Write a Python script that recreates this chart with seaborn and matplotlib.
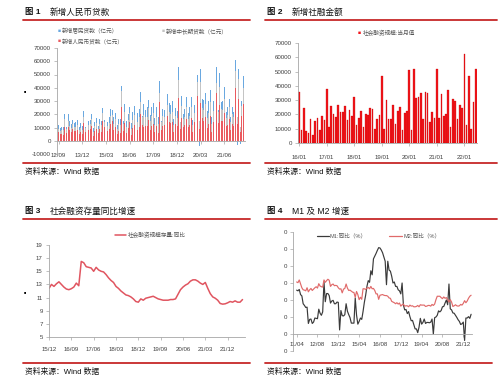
import numpy as np
import pandas as pd
import matplotlib
matplotlib.use('Agg')
import matplotlib.pyplot as plt
from matplotlib.lines import Line2D
import seaborn as sns

# ---------------- data ----------------
# Chart 1: monthly 2012/09 - 2022/06 (亿元)
loan_rmb = [6232, 5053, 5229, 4543,
            10721, 6200, 10625, 7929, 6674, 8605, 6999, 7139, 7870, 5061, 6246, 4825,
            13200, 6445, 10500, 7747, 8708, 10800, 3852, 7025, 8572, 5483, 8527, 6973,
            14700, 10200, 11800, 7079, 9008, 12800, 14800, 8096, 10500, 5136, 7089, 5978,
            25100, 7266, 13700, 5556, 9855, 13800, 4636, 9487, 12200, 6513, 7946, 10400,
            20300, 11700, 10200, 11000, 11100, 15400, 8255, 10900, 12700, 6632, 11200, 5844,
            29000, 8393, 11200, 11800, 11500, 18400, 14500, 13100, 13800, 6970, 12500, 10800,
            32300, 8858, 16900, 10200, 11800, 16600, 10600, 12100, 16900, 6613, 13900, 11400,
            33400, 9057, 28500, 17000, 14800, 18100, 9927, 12800, 19000, 6898, 14300, 12600,
            35800, 13600, 27300, 14700, 15000, 21200, 10800, 12200, 16600, 8262, 12700, 11300,
            39800, 12300, 31300, 6454, 18900, 28100]
loan_mid = [3000, 2500, 2800, 3500,
            5800, 3000, 4500, 3500, 3000, 3800, 3500, 3600, 4000, 2800, 3700, 3500,
            5000, 3500, 5200, 4000, 4200, 5400, 3000, 3800, 4600, 3200, 4300, 4800,
            6000, 4000, 5600, 3800, 4500, 5800, 4500, 4800, 5600, 3900, 5200, 5800,
            12600, 5000, 8000, 4800, 5500, 7000, 4200, 5800, 7000, 4500, 6200, 7500,
            9000, 6000, 9500, 7000, 7200, 9000, 6500, 7500, 8500, 5600, 7000, 6500,
            7000, 5500, 7600, 6500, 6800, 8500, 7400, 7000, 8000, 5200, 6500, 6000,
            13600, 5000, 9000, 6000, 6500, 9000, 5500, 6500, 8500, 5000, 7000, 7000,
            10700, 6000, 15600, 8000, 8500, 9500, 7000, 8500, 10000, 6000, 8500, 8000,
            7500, 8000, 13000, 9000, 8500, 10500, 6500, 7500, 8500, 6000, 7500, 7000,
            12800, 6000, 15000, 4000, 7500, 12000]
loan_house = [2800, 1800, 2700, 2600,
              3500, 1000, 5000, 3100, 2900, 3200, 3000, 3500, 4000, 2500, 3200, 2500,
              4500, 600, 4500, 3000, 3000, 4300, 2500, 3100, 4100, 2800, 3700, 3100,
              4300, 1600, 4300, 3600, 4200, 5300, 3800, 5200, 5000, 3000, 4400, 4500,
              3300, 3000, 6100, 4300, 4700, 4700, 4600, 6700, 6800, 4300, 6900, 6300,
              7200, 1000, 7800, 5500, 7100, 6500, 5000, 7400, 7400, 4700, 7100, 5300,
              9000, 1000, 5000, 5200, 6300, 8300, 6300, 7100, 7900, 4500, 6000, 5700,
              10100, -1000, 7700, 4300, 5800, 7200, 5000, 6500, 7600, 4200, 6000, 5700,
              5900, -4100, 9900, 6800, 7700, 8400, 5600, 8800, 9500, 5400, 7400, 6800,
              12700, 1500, 10700, 5900, 6700, 8900, 4700, 6000, 6600, 3500, 5500, 3500,
              8400, -3400, 7500, -2200, 3900, 8500]
c1_labels = ['12/09', '13/12', '15/03', '16/06', '17/09', '18/12', '20/03', '21/06']

# Chart 2: monthly 2016/01 - 2022/06 (亿元)
tsf_flow = [35400, 9100, 24500, 8400, 7000, 17000, 5400, 15200, 17500, 9100, 18600, 16100,
            38000, 11400, 25600, 20300, 18400, 26300, 21900, 21400, 25600, 16100, 22800, 18900,
            31900, 12400, 17500, 22400, 11400, 20500, 19300, 24200, 23500, 9800, 17000, 19300,
            47100, 10000, 30000, 17000, 17000, 26800, 13000, 22400, 25200, 9100, 20700, 22400,
            51000, 9100, 52000, 31200, 32000, 35000, 17000, 36000, 35000, 14500, 21700, 17500,
            52000, 17500, 34000, 18600, 20300, 37300, 11000, 30500, 29400, 17000, 26300, 24500,
            62000, 12400, 46900, 9600, 28400, 51700]
c2_labels = ['16/01', '17/01', '18/01', '19/01', '20/01', '21/01', '22/01']

# Chart 3: monthly 2015/12 - 2022/06 (%)
tsf_yoy = [12.4, 13.0, 12.7, 13.1, 13.4, 13.0, 12.6, 12.3, 12.2, 12.35, 12.6, 13.2, 12.8,
           16.5, 16.3, 15.7, 15.6, 15.5, 15.0, 15.6, 15.2, 15.0, 14.9, 14.5, 14.0, 13.6,
           13.3, 12.7, 12.4, 12.0, 11.7, 11.4, 11.3, 11.1, 10.8, 10.4, 10.3, 10.8, 10.6,
           10.9, 11.0, 11.1, 11.2, 11.0, 10.8, 10.7, 10.6, 10.6, 10.6, 10.7, 10.7, 10.8,
           11.5, 12.2, 12.6, 12.9, 13.1, 13.5, 13.7, 13.7, 13.5, 13.2, 13.0, 13.3, 12.4,
           11.6, 11.1, 10.9, 10.6, 10.1, 10.0, 10.05, 10.2, 10.4, 10.3, 10.5, 10.3, 10.3, 10.7]
c3_labels = ['15/12', '16/09', '17/06', '18/03', '18/12', '19/09', '20/06', '21/03', '21/12']

# Chart 4: monthly 2011/04 - 2022/06 (%)
m1_yoy = [12.9, 12.7, 13.1, 11.6, 11.2, 8.9, 8.4, 7.8, 7.9,
          3.1, 4.3, 4.4, 3.1, 3.5, 4.7, 4.6, 4.5, 7.3, 6.1, 5.5, 6.5,
          15.3, 9.5, 11.9, 11.9, 11.3, 9.1, 9.7, 9.9, 8.9, 8.9, 9.4, 9.3,
          1.2, 6.9, 5.4, 5.3, 5.7, 8.9, 6.7, 5.7, 4.8, 3.2, 3.2, 3.2,
          10.6, 5.6, 2.9, 3.7, 4.7, 4.3, 6.6, 9.3, 11.4, 14.0, 15.7, 15.2,
          18.6, 17.4, 22.1, 22.9, 23.7, 24.6, 25.4, 25.3, 24.7, 23.9, 22.7, 21.4,
          14.5, 21.4, 18.8, 18.5, 17.0, 15.0, 15.3, 14.0, 14.0, 13.0, 12.7, 11.8,
          15.0, 8.5, 7.1, 7.2, 6.0, 6.6, 5.1, 3.9, 4.0, 2.7, 1.5, 1.5,
          0.4, 2.0, 4.6, 2.9, 3.4, 4.4, 3.1, 3.4, 3.4, 3.3, 3.5, 4.4,
          0.0, 4.8, 5.0, 5.5, 6.8, 6.5, 6.9, 8.0, 8.1, 9.1, 10.0, 8.6,
          14.7, 7.4, 7.1, 6.2, 6.1, 5.5, 4.9, 4.2, 3.7, 2.8, 3.0, 3.5,
          -1.9, 4.7, 4.7, 5.1, 4.6, 5.8]
m2_yoy = [15.3, 15.1, 15.9, 14.7, 13.6, 13.0, 12.9, 12.7, 13.6,
          12.4, 13.0, 13.4, 12.8, 13.2, 13.6, 13.9, 13.5, 14.8, 14.1, 13.9, 13.8,
          15.9, 15.2, 15.7, 16.1, 15.8, 14.0, 14.5, 14.7, 14.2, 14.3, 14.2, 13.6,
          13.2, 13.3, 12.1, 13.2, 13.4, 14.7, 13.5, 12.8, 12.9, 12.6, 12.3, 12.2,
          10.8, 12.5, 11.6, 10.1, 10.8, 10.2, 13.3, 13.3, 13.1, 13.5, 13.7, 13.3,
          14.0, 13.3, 13.4, 12.8, 11.8, 11.8, 10.2, 11.4, 11.5, 11.6, 11.4, 11.3,
          11.3, 11.1, 10.6, 10.5, 9.6, 9.4, 9.2, 8.9, 9.2, 8.8, 9.1, 8.2,
          8.6, 8.8, 8.2, 8.3, 8.3, 8.0, 8.5, 8.2, 8.3, 8.0, 8.0, 8.1,
          8.4, 8.0, 8.6, 8.5, 8.5, 8.5, 8.1, 8.2, 8.4, 8.4, 8.2, 8.7,
          8.4, 8.8, 10.1, 11.1, 11.1, 11.1, 10.7, 10.4, 10.9, 10.5, 10.7, 10.1,
          9.4, 10.1, 9.4, 8.1, 8.3, 8.6, 8.3, 8.2, 8.3, 8.7, 8.5, 9.0,
          9.8, 9.2, 9.7, 10.5, 11.1, 11.4]
c4_labels = ['11/04', '12/08', '13/12', '15/04', '16/08', '17/12', '19/04', '20/08', '21/12']

# ---------------- style ----------------
sns.set_style('white')
plt.rcParams['font.family'] = ['Liberation Sans', 'Noto Sans CJK SC', 'DejaVu Sans']
plt.rcParams['axes.unicode_minus'] = False

W, H = 499, 384
fig = plt.figure(figsize=(W / 100, H / 100), dpi=100)
fig.patch.set_facecolor('white')

TICK_FS = 4.4
TXT = '#404040'
SPINE = '#A6A6A6'
RULE = '#C62828'


def ax_at(x0, y0, x1, y1):
    return fig.add_axes([x0 / W, 1 - y1 / H, (x1 - x0) / W, (y1 - y0) / H])


def ftext(x, y, s, **kw):
    kw.setdefault('va', 'center')
    fig.text(x / W, 1 - y / H, s, **kw)


def fline(x0, x1, y, color, lw):
    fig.add_artist(Line2D([x0 / W, x1 / W], [1 - y / H, 1 - y / H], color=color, lw=lw))


def style(ax, xpad=2.0):
    for s in ['top', 'right']:
        ax.spines[s].set_visible(False)
    for s in ['left', 'bottom']:
        ax.spines[s].set_color(SPINE)
        ax.spines[s].set_linewidth(0.6)
    ax.tick_params(axis='both', labelsize=TICK_FS, labelcolor=TXT, color=SPINE,
                   length=2, width=0.5, direction='out')
    ax.tick_params(axis='y', pad=2.5, left=True)
    ax.tick_params(axis='x', pad=xpad, bottom=True)
    ax.set_xlabel('')
    ax.set_ylabel('')
    ax.grid(False)
    ax.set_facecolor('white')


def title(x, y, num, text):
    ftext(x, y, '图 ' + num, fontsize=6.0, fontweight='bold', color='#111111')
    ftext(x + 25, y, text, fontsize=6.2, color='#111111')


def source(x, y):
    ftext(x, y, '资料来源：Wind 数据', fontsize=5.6, color='#111111')


# ---------------- Chart 1 ----------------
title(25, 12, '1', '新增人民币贷款')
fline(23, 250, 19.5, RULE, 1.3)
fline(23, 250, 163, RULE, 1.3)
source(25, 172)

ax1 = ax_at(57, 48, 245, 154)
x1 = np.arange(len(loan_rmb))
rmb = np.array(loan_rmb, dtype=float)
mid = np.array(loan_mid, dtype=float)
hh = np.array(loan_house, dtype=float)
c_red1, c_gray1, c_blue1 = '#EA5A5F', '#C4C4C4', '#6AA8E0'
ax1.bar(x1, rmb, width=0.6, color=c_red1, linewidth=0)
ax1.bar(x1, mid, bottom=rmb, width=0.6, color=c_gray1, linewidth=0)
ax1.bar(x1, hh, bottom=np.where(hh >= 0, rmb + mid, 0), width=0.6, color=c_blue1, linewidth=0)
ax1.set_xlim(-1, 118)
ax1.set_ylim(-10000, 70000)
ax1.set_yticks(range(-10000, 70001, 10000))
ax1.set_xticks(range(0, 118, 15))
ax1.set_xticklabels(c1_labels)
style(ax1, xpad=6.5)
ax1.spines['bottom'].set_position(('data', 0))

ftext(59, 31, '■', fontsize=3.6, color=c_blue1, ha='center')
ftext(62, 31, '新增居民贷款（亿元）', fontsize=4.1, color='#555555')
ftext(163, 31, '■', fontsize=3.6, color=c_gray1, ha='center')
ftext(166, 31, '新增中长期贷款（亿元）', fontsize=4.1, color='#555555')
ftext(59, 41, '■', fontsize=3.6, color=c_red1, ha='center')
ftext(62, 41, '新增人民币贷款（亿元）', fontsize=4.1, color='#555555')
ftext(25, 91, '■', fontsize=2.6, color='black', ha='center')

# ---------------- Chart 2 ----------------
title(267, 12, '2', '新增社融金额')
fline(265, 497, 19.5, RULE, 1.3)
fline(265, 497, 163, RULE, 1.3)
source(267, 172)

ax2 = ax_at(298, 43, 477, 143)
df2 = pd.DataFrame({'month': np.arange(len(tsf_flow)), 'value': tsf_flow})
sns.barplot(data=df2, x='month', y='value', color='#F2151B', saturation=1,
            width=0.72, edgecolor='#C00000', linewidth=0.2, ax=ax2)
ax2.set_xlim(-0.5, len(tsf_flow) - 0.5)
ax2.set_ylim(0, 70000)
ax2.set_yticks(range(0, 70001, 10000))
ax2.set_xticks(range(0, len(tsf_flow), 12))
ax2.set_xticklabels(c2_labels)
style(ax2, xpad=6.5)
ftext(359, 33, '■', fontsize=3.6, color='#F2151B', ha='center')
ftext(363, 33, '社会融资规模:当月值', fontsize=4.1, color='#555555')

# ---------------- Chart 3 ----------------
title(25, 211, '3', '社会融资存量同比增速')
fline(23, 250, 219, RULE, 1.3)
fline(23, 250, 363, RULE, 1.3)
source(25, 372)

ax3 = ax_at(49, 245, 245, 337)
sns.lineplot(x=np.arange(len(tsf_yoy)), y=tsf_yoy, color='#E05560', lw=1.1, ax=ax3)
ax3.set_xlim(0, 79)
ax3.set_ylim(5, 19)
ax3.set_yticks(range(5, 20, 2))
ax3.set_xticks(range(0, 73, 9))
ax3.set_xticklabels(c3_labels)
style(ax3, xpad=5.0)
fline(115, 126, 235, '#E05560', 1.1)
ftext(128, 235, '社会融资规模存量:同比', fontsize=4.1, color='#555555')
ftext(25, 292, '■', fontsize=2.6, color='black', ha='center')

# ---------------- Chart 4 ----------------
title(267, 211, '4', 'M1 及 M2 增速')
fline(265, 497, 218.5, RULE, 1.3)
fline(265, 492, 363, RULE, 1.3)
source(267, 372)

ax4 = ax_at(293, 232, 472.4, 351)
idx4 = np.arange(len(m1_yoy))
sns.lineplot(x=idx4, y=m1_yoy, color='#3A3A3A', lw=0.85, ax=ax4)
sns.lineplot(x=idx4, y=m2_yoy, color='#E06A6A', lw=0.85, ax=ax4)
ax4.set_xlim(-2.8, 135)
ax4.set_ylim(-5, 30)
ax4.set_yticks(range(-5, 31, 5))
ax4.set_yticklabels(['0'] * 8)
ax4.set_xticks(range(0, 129, 16))
ax4.set_xticklabels(c4_labels)
style(ax4, xpad=4.0)
ax4.spines['bottom'].set_position(('data', 0))
fline(317, 329, 236, '#3A3A3A', 0.9)
ftext(330, 236, 'M1:同比（%）', fontsize=4.1, color='#555555')
fline(389, 402, 236, '#E06A6A', 0.9)
ftext(403, 236, 'M2:同比（%）', fontsize=4.1, color='#555555')

fig.savefig('out.png', dpi=100, facecolor='white')
